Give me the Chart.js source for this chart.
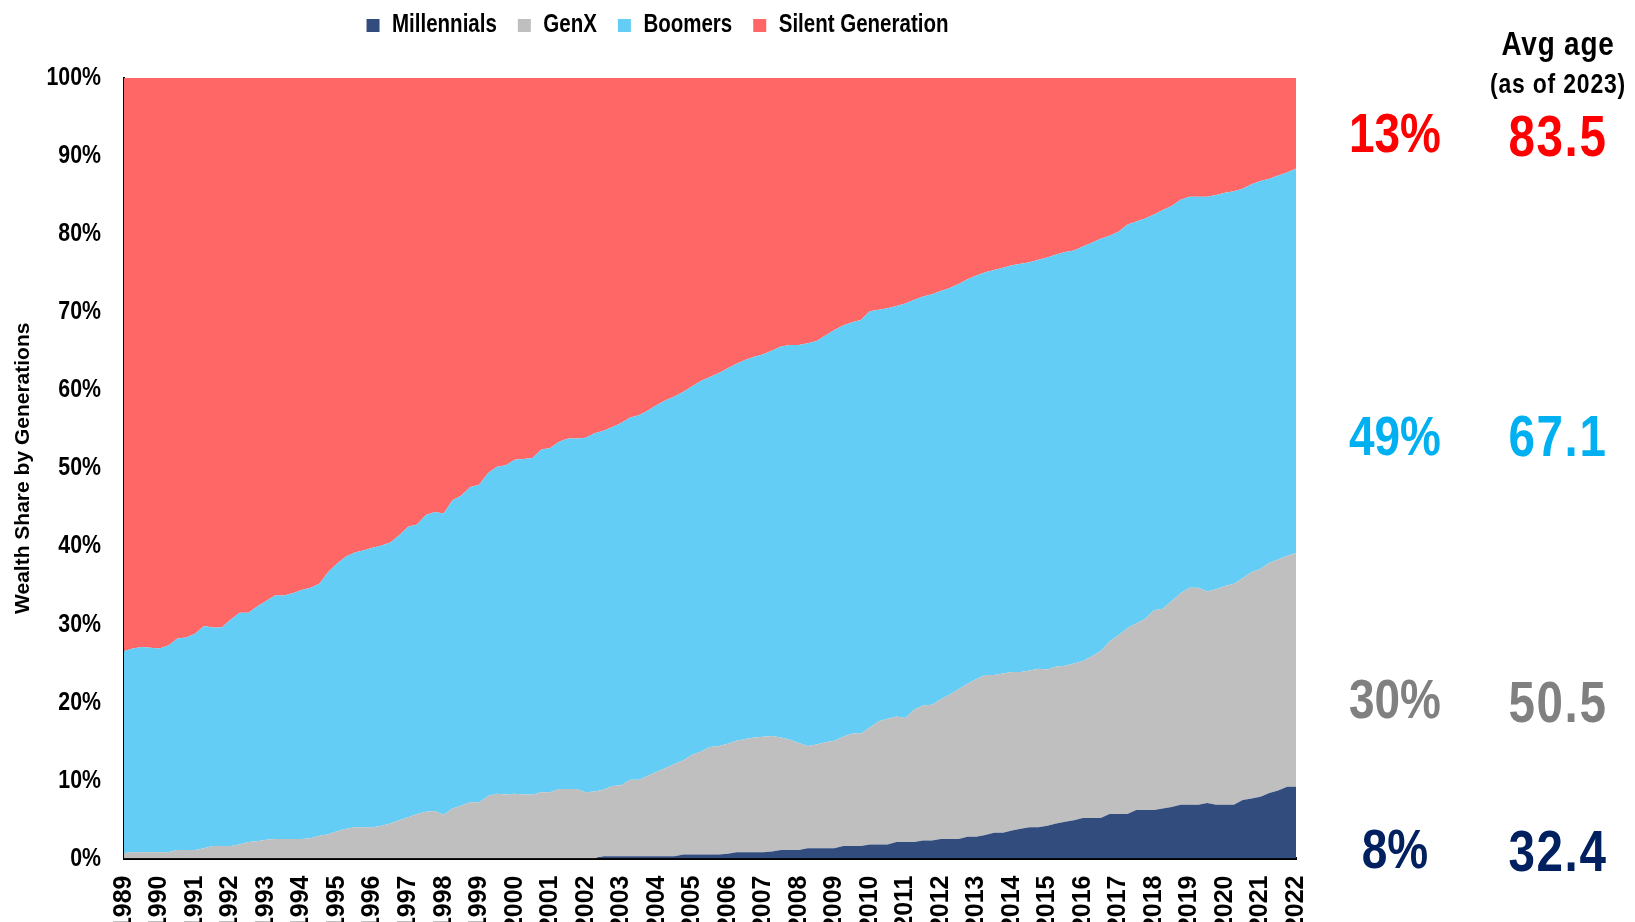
<!DOCTYPE html>
<html>
<head>
<meta charset="utf-8">
<script src="https://cdn.jsdelivr.net/npm/chart.js@4.4.1/dist/chart.umd.min.js"></script>
<style>
  html, body { margin: 0; padding: 0; background: #ffffff; }
  #wrap { position: relative; width: 1635px; height: 922px; overflow: hidden; }
  canvas { display: block; }
</style>
</head>
<body>
<div id="wrap"><canvas id="c" width="1635" height="922"></canvas></div>
<script>
// ---- DATA (quarterly shares of wealth, %, 1989 Q1 .. 2022 Q1) ----
const years = [1989,1990,1991,1992,1993,1994,1995,1996,1997,1998,1999,2000,2001,2002,2003,2004,2005,2006,2007,2008,2009,2010,2011,2012,2013,2014,2015,2016,2017,2018,2019,2020,2021,2022];
const seriesNames = ['Millennials', 'GenX', 'Boomers', 'Silent Generation'];

const millennials = [
  0,0,0,0,  0,0,0,0,  0,0,0,0,  0,0,0,0,  0,0,0,0,          // 1989-1993
  0,0,0,0,  0,0,0,0,  0,0,0,0,  0,0,0,0,  0,0,0,0,          // 1994-1998
  0,0,0,0,  0,0,0,0,  0,0,0,0,  0,0,0.3,0.3,                // 1999-2002
  0.3,0.3,0.3,0.3,  0.3,0.3,0.3,0.5,  0.5,0.5,0.5,0.5,      // 2003-2005
  0.6,0.8,0.8,0.8,  0.8,0.9,1.1,1.1,  1.1,1.3,1.3,1.3,      // 2006-2008
  1.3,1.6,1.6,1.6,  1.8,1.8,1.8,2.1,  2.1,2.1,2.3,2.3,      // 2009-2011
  2.5,2.5,2.5,2.8,  2.8,3.0,3.3,3.3,  3.6,3.8,4.0,4.0,      // 2012-2014
  4.2,4.5,4.7,4.9,  5.2,5.2,5.2,5.7,  5.7,5.7,6.2,6.2,      // 2015-2017
  6.2,6.4,6.6,6.9,  6.9,6.9,7.1,6.9,  6.9,6.9,7.5,7.7,      // 2018-2020
  7.9,8.4,8.7,9.2,  9.2                                     // 2021-2022
];
const genX = [
  0.7,0.8,0.8,0.8,  0.8,0.8,1.1,1.1,  1.1,1.3,1.6,1.6,      // 1989-1991
  1.6,1.8,2.1,2.2,  2.4,2.5,2.5,2.5,  2.5,2.6,2.9,3.1,      // 1992-1994
  3.5,3.8,4.0,4.0,  4.0,4.2,4.5,4.9,  5.3,5.7,6.0,6.1,      // 1995-1997
  5.6,6.4,6.8,7.2,  7.2,8.0,8.3,8.2,  8.3,8.2,8.2,8.5,      // 1998-2000
  8.5,8.9,8.9,8.9,  8.5,8.6,8.5,9.0,  9.1,9.8,9.8,10.3,     // 2001-2003
  10.8,11.3,11.8,12.1,  12.8,13.2,13.8,13.9,  14.1,14.3,14.5,14.7, // 2004-2006
  14.8,14.8,14.4,14.1,  13.7,13.1,13.3,13.6,  13.8,14.0,14.4,14.4, // 2007-2009
  15.0,15.8,16.1,16.1,  15.9,17.0,17.3,17.4,  17.9,18.5,19.2,19.6, // 2010-2012
  20.2,20.5,20.2,20.4,  20.3,20.1,20.1,20.3,  20.0,20.1,20.0,20.1, // 2013-2015
  20.1,20.7,21.4,22.1,  22.9,23.8,23.9,24.5,  25.6,25.6,26.4,27.1, // 2016-2018
  27.8,27.8,27.1,27.6,  28.0,28.3,28.4,29.0,  29.2,29.5,29.6,29.6, // 2019-2021
  29.9                                                             // 2022
];
const boomers = [
  25.9,26.1,26.3,26.2,  26.1,26.5,27.1,27.2,  27.7,28.5,28.0,28.0, // 1989-1991
  29.0,29.7,29.4,30.1,  30.6,31.2,31.2,31.5,  31.9,32.1,32.3,33.6, // 1992-1994
  34.3,34.9,35.2,35.5,  35.8,35.9,36.0,36.5,  37.2,37.1,38.0,38.3, // 1995-1997
  38.6,39.5,39.7,40.4,  40.7,41.4,41.9,42.2,  42.8,43.0,43.1,43.9, // 1998-2000
  44.1,44.5,44.9,44.9,  45.4,45.9,46.0,46.0,  46.4,46.4,46.7,46.8, // 2001-2003
  47.0,47.1,47.1,47.2,  47.2,47.5,47.4,47.8,  48.1,48.3,48.6,48.8, // 2004-2006
  49.0,49.4,50.1,50.6,  51.0,51.6,51.7,52.1,  52.6,52.7,52.7,53.0, // 2007-2009
  53.3,52.7,52.6,52.6,  53.1,52.5,52.4,52.6,  52.3,52.1,51.9,51.8, // 2010-2012
  51.7,51.6,51.9,52.0,  52.1,52.3,52.3,52.4,  52.8,52.8,53.0,52.9, // 2013-2015
  53.1,53.0,52.8,52.0,  51.7,51.7,51.5,51.3,  50.7,51.1,50.6,50.4, // 2016-2018
  50.1,50.1,50.6,50.5,  50.4,50.3,49.9,49.7,  49.7,49.2,49.2,49.1, // 2019-2021
  49.3                                                             // 2022
];
const silentGen = [
  73.4,73.1,72.9,73.0,  73.1,72.7,71.8,71.7,  71.2,70.2,70.4,70.4, // 1989-1991
  69.4,68.5,68.5,67.7,  67.0,66.3,66.3,66.0,  65.6,65.3,64.8,63.3, // 1992-1994
  62.2,61.3,60.8,60.5,  60.2,59.9,59.5,58.6,  57.5,57.2,56.0,55.6, // 1995-1997
  55.8,54.1,53.5,52.4,  52.1,50.6,49.8,49.6,  48.9,48.8,48.7,47.6, // 1998-2000
  47.4,46.6,46.2,46.2,  46.1,45.5,45.2,44.7,  44.2,43.5,43.2,42.6, // 2001-2003
  41.9,41.3,40.8,40.2,  39.5,38.8,38.3,37.8,  37.2,36.6,36.1,35.7, // 2004-2006
  35.4,34.9,34.4,34.2,  34.2,34.0,33.7,33.0,  32.3,31.7,31.3,31.0, // 2007-2009
  29.9,29.7,29.5,29.2,  28.9,28.4,28.0,27.7,  27.3,26.9,26.4,25.8, // 2010-2012
  25.3,24.9,24.6,24.3,  24.0,23.8,23.6,23.3,  23.0,22.6,22.3,22.1, // 2013-2015
  21.6,21.1,20.6,20.2,  19.7,18.8,18.4,18.0,  17.5,16.9,16.4,15.6, // 2016-2018
  15.2,15.2,15.2,15.0,  14.7,14.5,14.2,13.6,  13.2,12.9,12.5,12.1, // 2019-2021
  11.6                                                             // 2022
];
const yTickValues = [0,10,20,30,40,50,60,70,80,90,100];

// Right-hand annotation texts
const shareLabels = ['13%', '49%', '30%', '8%'];
const ageLabels   = ['83.5', '67.1', '50.5', '32.4'];
const ageHeader   = ['Avg age', '(as of 2023)'];

// ---- STYLE ----
const seriesColors = ['#324C7E', '#BFBFBF', '#64CDF5', '#FF6666'];
const annotColors  = ['#FF0000', '#00B0F0', '#808080', '#002060'];
// Condensed look: Liberation Sans Bold squeezed horizontally (marker family triggers the squeeze)
const NARROW = "'Liberation Sans', zzNarrow";
const WIDE = "'Liberation Sans', Arial, sans-serif";
const SQUEEZE = 0.82;

(function patchCanvasText() {
  const proto = CanvasRenderingContext2D.prototype;
  const origFill = proto.fillText;
  const origMeasure = proto.measureText;
  proto.fillText = function (text, x, y, maxWidth) {
    if (this.font.indexOf('zzNarrow') >= 0) {
      this.save(); this.translate(x, y); this.scale(SQUEEZE, 1);
      origFill.call(this, text, 0, 0); this.restore(); return;
    }
    return origFill.apply(this, arguments);
  };
  proto.measureText = function (text) {
    const m = origMeasure.call(this, text);
    if (this.font.indexOf('zzNarrow') >= 0) {
      return {
        width: m.width * SQUEEZE,
        actualBoundingBoxLeft: m.actualBoundingBoxLeft * SQUEEZE,
        actualBoundingBoxRight: m.actualBoundingBoxRight * SQUEEZE,
        actualBoundingBoxAscent: m.actualBoundingBoxAscent,
        actualBoundingBoxDescent: m.actualBoundingBoxDescent,
        fontBoundingBoxAscent: m.fontBoundingBoxAscent,
        fontBoundingBoxDescent: m.fontBoundingBoxDescent
      };
    }
    return m;
  };
})();

// quarterly category labels built from the years
const quarterLabels = [];
years.forEach(y => { for (let q = 1; q <= 4; q++) { if (y === years[years.length - 1] && q > 1) break; quarterLabels.push(y + ' Q' + q); } });

const seriesValues = [millennials, genX, boomers, silentGen];

const annotPlugin = {
  id: 'sideAnnotations',
  afterDraw(chart) {
    const ctx = chart.ctx;
    const right = chart.chartArea.right;
    const shareX = right + 99, ageX = right + 262;
    const shareBase = [152, 455, 718, 868];
    const ageBase = [156, 456, 722, 871];
    ctx.save();
    ctx.textAlign = 'center';
    ctx.textBaseline = 'alphabetic';
    ctx.fillStyle = '#000000';
    try { ctx.letterSpacing = '1px'; } catch (e) {}
    ctx.font = "bold 34px " + NARROW;
    ctx.fillText(ageHeader[0], ageX, 55);
    ctx.font = "bold 28px " + NARROW;
    ctx.fillText(ageHeader[1], ageX, 93);
    for (let i = 0; i < shareLabels.length; i++) {
      ctx.fillStyle = annotColors[i];
      try { ctx.letterSpacing = '0px'; } catch (e) {}
      ctx.font = "bold 56px " + NARROW;
      ctx.fillText(shareLabels[i], shareX, shareBase[i]);
      try { ctx.letterSpacing = '2px'; } catch (e) {}
      ctx.font = "bold 58px " + NARROW;
      ctx.fillText(ageLabels[i], ageX, ageBase[i]);
    }
    ctx.restore();
  }
};

// legend: extra space below it, and drawn slightly higher
const legendTweak = {
  id: 'legendTweak',
  beforeInit(chart) {
    const lg = chart.legend;
    const origFit = lg.fit;
    lg.fit = function () {
      origFit.bind(lg)();
      this.height += 22;
    };
    const origDraw = lg.draw;
    lg.draw = function () {
      const ctx = chart.ctx;
      ctx.save();
      ctx.translate(4, -8);
      origDraw.apply(lg, arguments);
      ctx.restore();
    };
  }
};

function build() {
  new Chart(document.getElementById('c'), {
    type: 'line',
    data: {
      labels: quarterLabels,
      datasets: seriesNames.map((name, i) => ({
        label: name,
        data: seriesValues[i],
        backgroundColor: seriesColors[i],
        borderColor: seriesColors[i],
        borderWidth: 0,
        pointRadius: 0,
        pointHoverRadius: 0,
        tension: 0,
        fill: i === 0 ? 'origin' : '-1'
      }))
    },
    options: {
      responsive: false,
      animation: false,
      events: [],
      layout: { padding: { left: 11, right: 339, top: 0, bottom: 0 } },
      plugins: {
        tooltip: { enabled: false },
        legend: {
          position: 'top',
          align: 'center',
          labels: {
            boxWidth: 13,
            boxHeight: 13,
            padding: 21,
            color: '#000000',
            font: { family: NARROW, weight: 'bold', size: 25 }
          }
        }
      },
      scales: {
        x: {
          type: 'category',
          offset: false,
          grid: { display: false, drawTicks: false },
          border: { display: true, color: '#000000', width: 3 },
          afterFit: (scale) => { scale.height = 63.5; },
          ticks: {
            autoSkip: false,
            maxRotation: 90,
            minRotation: 90,
            padding: 17,
            color: '#000000',
            font: { family: WIDE, weight: 'bold', size: 25 },
            callback: function (value, index) {
              return index % 4 === 0 ? String(years[index / 4]) : null;
            }
          }
        },
        y: {
          stacked: true,
          min: 0,
          max: 100,
          afterBuildTicks: (scale) => { scale.ticks = yTickValues.map(v => ({ value: v })); },
          afterFit: (scale) => { scale.width = 113; },
          grid: { display: false, drawTicks: false },
          border: { display: true, color: '#000000', width: 2 },
          title: {
            display: true,
            text: 'Wealth Share by Generations',
            color: '#000000',
            font: { family: WIDE, weight: 'bold', size: 21 },
            padding: { top: 0, bottom: 6 }
          },
          ticks: {
            padding: 23,
            color: '#000000',
            font: { family: NARROW, weight: 'bold', size: 26 },
            callback: (v) => v + '%'
          }
        }
      }
    },
    plugins: [legendTweak, annotPlugin]
  });
}

document.fonts.load("bold 24px 'Liberation Sans'").then(build, build);
</script>
</body>
</html>
